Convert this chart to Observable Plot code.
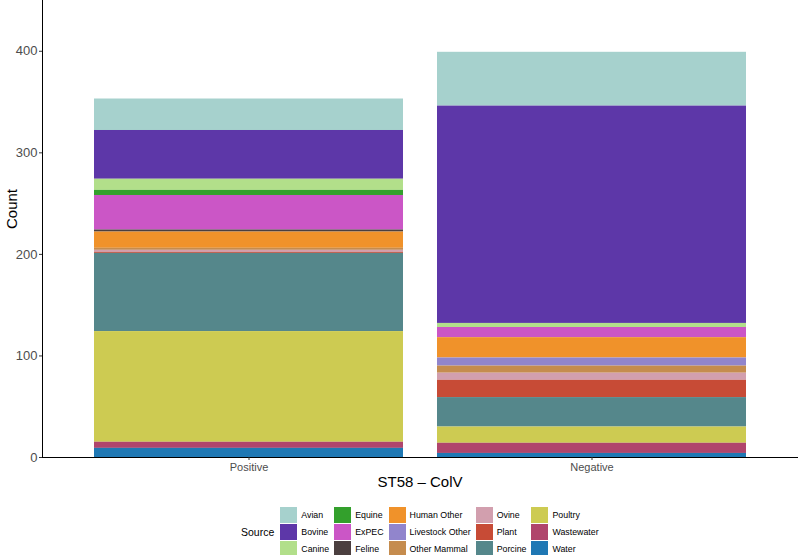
<!DOCTYPE html>
<html>
<head>
<meta charset="utf-8">
<script src="https://cdn.jsdelivr.net/npm/d3@7"></script>
<script src="https://cdn.jsdelivr.net/npm/@observablehq/plot@0.6"></script>
<style>
  body { margin: 0; background: #fff; font-family: "Liberation Sans", Arial, Helvetica, sans-serif; }
  #wrap { position: relative; width: 798px; height: 555px; overflow: hidden; }
  #legend { position: absolute; left: 241px; top: 506px; display: flex; align-items: center; }
  #legend .title { font-size: 10.5px; color: #000; margin-right: 6px; }
  #legend .grid { display: grid; grid-auto-flow: column; grid-template-rows: repeat(3, 17px); }
  #legend .item { display: flex; align-items: center; height: 17px; padding-right: 5px; }
  #legend .sw { width: 17px; height: 16px; margin-right: 4px; }
  #legend .lab { font-size: 8.8px; color: #000; white-space: nowrap; }
</style>
</head>
<body>
<div id="wrap"><div id="chart"></div><div id="legend"></div></div>
<script>
const groups = ["Positive", "Negative"];
const sources = ["Avian", "Bovine", "Canine", "Equine", "ExPEC", "Feline", "Human Other",
  "Livestock Other", "Other Mammal", "Ovine", "Plant", "Porcine", "Poultry", "Wastewater", "Water"];
const sourceColors = ["#A6D1CD", "#5D37A8", "#B2DF8A", "#33A02C", "#CB56C6", "#4B3F3F", "#F0922A",
  "#9185CC", "#C58C4E", "#D29FAE", "#C74B36", "#55878B", "#CDCB52", "#B0456C", "#1F78B4"];
const positiveCounts = [31, 48, 11, 5, 34, 2, 16, 0, 2, 2, 1, 77, 109, 6, 9];
const negativeCounts = [53, 214, 4, 0, 10, 0, 20, 8, 7, 7, 17, 29, 16, 10, 4];
const yTicks = [0, 100, 200, 300, 400];
const xTitle = "ST58 – ColV";
const yTitle = "Count";
const legendTitle = "Source";

const data = [];
sources.forEach((s, i) => data.push({group: groups[0], source: s, count: positiveCounts[i]}));
sources.forEach((s, i) => data.push({group: groups[1], source: s, count: negativeCounts[i]}));

const chart = Plot.plot({
  width: 798,
  height: 492,
  marginLeft: 42,
  marginRight: 1,
  marginTop: 0,
  marginBottom: 35,
  style: {fontFamily: "'Liberation Sans', Arial, Helvetica, sans-serif", background: "#fff"},
  x: {domain: groups, paddingInner: 0.1, paddingOuter: 0.15, label: null},
  y: {domain: [0, 450], label: null},
  color: {domain: sources, range: sourceColors},
  marks: [
    Plot.barY(data, Plot.stackY({order: sources.slice().reverse()}, {
      x: "group", y: "count", fill: "source"
    })),
    Plot.frame({anchor: "left", stroke: "#000", strokeWidth: 1}),
    Plot.frame({anchor: "bottom", stroke: "#000", strokeWidth: 1}),
    Plot.axisY({ticks: yTicks, tickSize: 3, tickPadding: 2, fontSize: 13, color: "#4d4d4d", stroke: "#333", label: null}),
    Plot.axisX({tickSize: 3, tickPadding: 3, fontSize: 11, color: "#4d4d4d", stroke: "#333", label: null}),
    Plot.text([xTitle], {frameAnchor: "bottom", dy: 29, lineAnchor: "bottom", fontSize: 15, fill: "#000", text: d => d}),
    Plot.text([yTitle], {frameAnchor: "left", dx: -30, rotate: -90, fontSize: 15, fill: "#000", text: d => d})
  ]
});
document.getElementById("chart").appendChild(chart);

const legend = document.getElementById("legend");
const t = document.createElement("div");
t.className = "title";
t.textContent = legendTitle;
legend.appendChild(t);
const grid = document.createElement("div");
grid.className = "grid";
sources.forEach((s, i) => {
  const it = document.createElement("div");
  it.className = "item";
  const sw = document.createElement("div");
  sw.className = "sw";
  sw.style.background = sourceColors[i];
  const lb = document.createElement("span");
  lb.className = "lab";
  lb.textContent = s;
  it.appendChild(sw);
  it.appendChild(lb);
  grid.appendChild(it);
});
legend.appendChild(grid);
</script>
</body>
</html>
